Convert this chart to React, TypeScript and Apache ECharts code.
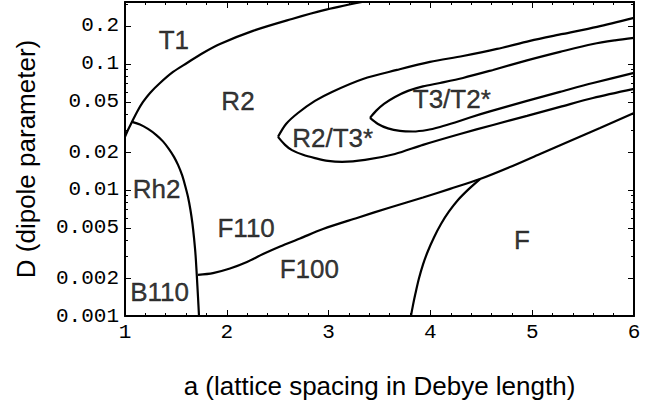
import React, { useEffect, useRef } from "react";
import * as echarts from "echarts";

// Axis ranges
const xMin = 1;
const xMax = 6;
const yMin = 0.001;
const yMax = 0.31;

// Tick values on the logarithmic D axis
const yLabelValues = [0.001, 0.002, 0.005, 0.01, 0.02, 0.05, 0.1, 0.2];
const yMinorValues = [0.003, 0.004, 0.006, 0.007, 0.008, 0.009, 0.03, 0.04, 0.06, 0.07, 0.08, 0.09, 0.3];

// T1 / R2 boundary
const t1A = [1.0, 1.029, 1.069, 1.118, 1.177, 1.246, 1.344, 1.472, 1.609, 1.766, 1.933, 2.257, 2.64, 2.945, 3.328];
const t1D = [0.0264, 0.0299, 0.0347, 0.0416, 0.0499, 0.0589, 0.0706, 0.0864, 0.1018, 0.1222, 0.144, 0.183, 0.2275, 0.266, 0.31];

// Rh2 boundary
const rh2A = [1.069, 1.147, 1.226, 1.305, 1.373, 1.432, 1.481, 1.521, 1.56, 1.589, 1.619, 1.643, 1.663, 1.678, 1.693, 1.705, 1.717, 1.727];
const rh2D = [0.0347, 0.0331, 0.0305, 0.0274, 0.0243, 0.0211, 0.0183, 0.0158, 0.01315, 0.01096, 0.0088, 0.00694, 0.00537, 0.00416, 0.00305, 0.00212, 0.00142, 0.001];

// F110 lower boundary (F110/F100 and F110/F)
const f110A = [1.717, 1.864, 2.031, 2.198, 2.356, 2.523, 2.719, 2.945, 3.279, 3.603, 3.927, 4.193, 4.487, 4.782, 5.077, 5.371, 5.666, 6.0];
const f110D = [0.00212, 0.00219, 0.00238, 0.00268, 0.0031, 0.00356, 0.00412, 0.0049, 0.006, 0.00726, 0.00871, 0.0102, 0.0122, 0.0152, 0.0193, 0.0245, 0.031, 0.0408];

// F100 / F boundary
const fA = [3.809, 3.829, 3.854, 3.888, 3.927, 3.976, 4.035, 4.104, 4.183, 4.271, 4.379, 4.487];
const fD = [0.001, 0.00122, 0.00152, 0.00199, 0.00256, 0.00328, 0.0042, 0.00537, 0.00675, 0.00833, 0.0102, 0.0122];

// R2/T3* region, upper branch
const r2UpA = [2.503, 2.582, 2.699, 2.866, 3.033, 3.338, 3.672, 3.996, 4.32, 4.654, 4.978, 5.303, 5.637, 6.0];
const r2UpD = [0.0264, 0.0334, 0.0408, 0.0509, 0.06, 0.076, 0.0896, 0.1037, 0.1156, 0.1315, 0.1523, 0.173, 0.197, 0.232];

// R2/T3* region, lower branch
const r2LoA = [2.503, 2.572, 2.64, 2.749, 2.866, 2.994, 3.132, 3.358, 3.652, 3.927, 4.291, 4.615, 4.949, 5.273, 5.597, 6.0];
const r2LoD = [0.0264, 0.0228, 0.0207, 0.019, 0.0179, 0.017, 0.0167, 0.0173, 0.0193, 0.0228, 0.0278, 0.0328, 0.0387, 0.0456, 0.0537, 0.0634];

// T3/T2* region, upper branch
const t3UpA = [3.407, 3.466, 3.544, 3.652, 3.78, 3.927, 4.094, 4.32, 4.615, 4.949, 5.273, 5.597, 5.813, 6.0];
const t3UpD = [0.0373, 0.0424, 0.0482, 0.0547, 0.0611, 0.0663, 0.0706, 0.0774, 0.0896, 0.1066, 0.1245, 0.144, 0.154, 0.161];

// T3/T2* region, lower branch
const t3LoA = [3.407, 3.485, 3.583, 3.701, 3.829, 3.967, 4.094, 4.242, 4.389, 4.585, 4.949, 5.273, 5.597, 6.0];
const t3LoD = [0.0373, 0.0334, 0.0308, 0.0294, 0.0291, 0.0299, 0.0316, 0.0343, 0.0376, 0.042, 0.0509, 0.06, 0.0706, 0.0849];

// Phase labels
const phaseNames = ["T1", "R2", "R2/T3*", "T3/T2*", "Rh2", "F110", "B110", "F100", "F"];
const phaseA = [1.48, 2.11, 3.04, 4.21, 1.31, 2.19, 1.34, 2.81, 4.9];
const phaseD = [0.155, 0.0508, 0.0259, 0.0527, 0.0102, 0.00499, 0.00155, 0.00236, 0.004];

const curves: [number[], number[]][] = [
  [t1A, t1D],
  [rh2A, rh2D],
  [f110A, f110D],
  [fA, fD],
  [r2UpA, r2UpD],
  [r2LoA, r2LoD],
  [t3UpA, t3UpD],
  [t3LoA, t3LoD],
];

const zip = (xs: number[], ys: number[]) => xs.map((x, i) => [x, ys[i]]);

const monoFont = "'Liberation Mono', 'Courier New', monospace";
const sansFont = "'Liberation Sans', Arial, Helvetica, sans-serif";

export default function App() {
  const ref = useRef<HTMLDivElement>(null);

  useEffect(() => {
    if (!ref.current) return;
    const chart = echarts.init(ref.current, null, { renderer: "svg" });

    const fmt = (v: number) => String(parseFloat(Number(v).toPrecision(6)));

    const xBase = {
      type: "value" as const,
      min: xMin,
      max: xMax,
      interval: 1,
      splitLine: { show: false },
      axisLine: { show: true, onZero: false, lineStyle: { color: "#000", width: 2 } },
      axisTick: { show: true, inside: true, length: 6, lineStyle: { color: "#000", width: 1 } },
      minorTick: { show: true, splitNumber: 5, length: 3, lineStyle: { color: "#000", width: 1 } },
    };

    const yBase = {
      type: "log" as const,
      logBase: 10,
      min: yMin,
      max: yMax,
      splitLine: { show: false },
      minorSplitLine: { show: false },
      axisLine: { show: true, onZero: false, lineStyle: { color: "#000", width: 2 } },
    };

    const option: any = {
      animation: false,
      backgroundColor: "#fff",
      grid: {
        left: 125,
        right: 28,
        top: 2,
        bottom: 87,
        containLabel: false,
        outerBoundsMode: "none",
      },
      xAxis: [
        {
          ...xBase,
          position: "bottom",
          name: "a (lattice spacing in Debye length)",
          nameLocation: "middle",
          nameGap: 57,
          nameTextStyle: { color: "#000", fontSize: 26, fontFamily: sansFont },
          axisLabel: {
            color: "#000",
            fontSize: 21,
            fontFamily: monoFont,
            margin: 6,
            showMinLabel: true,
            showMaxLabel: true,
          },
        },
        {
          ...xBase,
          position: "top",
          axisLabel: { show: false },
        },
      ],
      yAxis: [
        {
          ...yBase,
          position: "left",
          name: "D (dipole parameter)",
          nameLocation: "middle",
          nameGap: 86,
          nameTextStyle: { color: "#000", fontSize: 26, fontFamily: sansFont },
          axisTick: {
            show: true,
            inside: true,
            length: 6,
            customValues: yLabelValues,
            lineStyle: { color: "#000", width: 1 },
          },
          axisLabel: {
            color: "#000",
            fontSize: 21,
            fontFamily: monoFont,
            margin: 6,
            customValues: yLabelValues,
            formatter: (v: number) => fmt(v),
          },
        },
        {
          ...yBase,
          position: "left",
          axisLine: { show: false },
          axisLabel: { show: false },
          axisTick: {
            show: true,
            inside: true,
            length: 3,
            customValues: yMinorValues,
            lineStyle: { color: "#000", width: 1 },
          },
        },
        {
          ...yBase,
          position: "right",
          axisLabel: { show: false },
          axisTick: {
            show: true,
            inside: true,
            length: 6,
            customValues: yLabelValues,
            lineStyle: { color: "#000", width: 1 },
          },
        },
        {
          ...yBase,
          position: "right",
          axisLine: { show: false },
          axisLabel: { show: false },
          axisTick: {
            show: true,
            inside: true,
            length: 3,
            customValues: yMinorValues,
            lineStyle: { color: "#000", width: 1 },
          },
        },
      ],
      series: [
        ...curves.map(([xs, ys]) => ({
          type: "line",
          xAxisIndex: 0,
          yAxisIndex: 0,
          data: zip(xs, ys),
          showSymbol: false,
          symbol: "none",
          smooth: 0.3,
          clip: true,
          silent: true,
          lineStyle: { color: "#000", width: 2.2 },
          z: 3,
        })),
        {
          type: "scatter",
          xAxisIndex: 0,
          yAxisIndex: 0,
          symbolSize: 1,
          silent: true,
          itemStyle: { color: "rgba(0,0,0,0)" },
          data: phaseNames.map((n, i) => [phaseA[i], phaseD[i], n]),
          label: {
            show: true,
            position: "inside",
            formatter: (p: any) => p.data[2],
            color: "#000",
            fontSize: 26,
            fontFamily: sansFont,
            textBorderColor: "#000",
            textBorderWidth: 0.4,
          },
          z: 4,
        },
      ],
    };

    chart.setOption(option);
    return () => chart.dispose();
  }, []);

  return (
    <div
      ref={ref}
      style={{ position: "fixed", left: 0, top: 0, width: 662, height: 403, background: "#fff" }}
    />
  );
}
